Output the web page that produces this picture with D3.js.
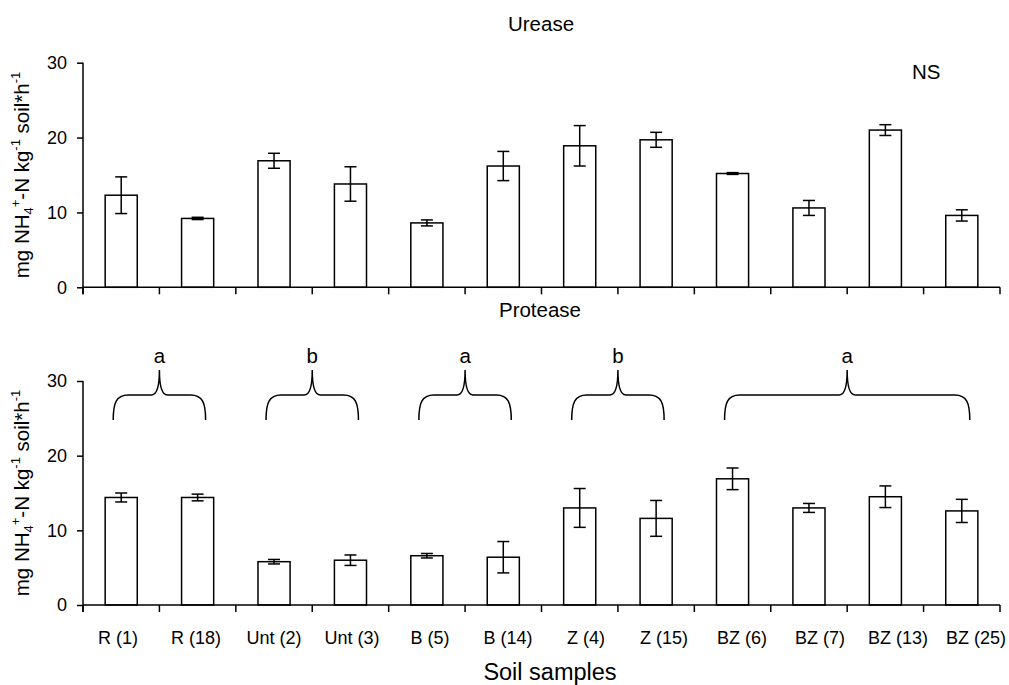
<!DOCTYPE html>
<html><head><meta charset="utf-8">
<script src="https://cdn.jsdelivr.net/npm/d3@7"></script>
<style>
body{margin:0;background:#fff;}
text{font-family:"Liberation Sans",Arial,sans-serif;fill:#000;}
</style></head>
<body><svg id="c" width="1009" height="685"></svg>
<script>
const categories = ["R (1)","R (18)","Unt (2)","Unt (3)","B (5)","B (14)","Z (4)","Z (15)","BZ (6)","BZ (7)","BZ (13)","BZ (25)"];
const ureaseMean = [12.3, 9.2, 16.9, 13.8, 8.6, 16.2, 18.9, 19.7, 15.2, 10.6, 21.0, 9.6];
const ureaseErr  = [2.45, 0.15, 1.0, 2.3, 0.4, 1.95, 2.7, 1.0, 0.12, 1.0, 0.72, 0.75];
const proteaseMean = [14.4, 14.4, 5.8, 6.0, 6.6, 6.4, 13.0, 11.6, 16.9, 13.0, 14.5, 12.6];
const proteaseErr  = [0.6, 0.45, 0.3, 0.7, 0.3, 2.1, 2.6, 2.4, 1.45, 0.6, 1.45, 1.55];
const groupLetters = ["a","b","a","b","a"];
const groupFirst = [0,2,4,6,8];
const groupLast  = [1,3,5,7,11];
const yTicks = [0,10,20,30];
const panelTitles = ["Urease","Protease"];
const nsLabel = "NS";
const xTitle = "Soil samples";

const svg = d3.select("#c");
const left = 83, right = 1000;
const x = d3.scaleBand().domain(categories).range([left,right]).paddingInner(0.58).paddingOuter(0.29);
const step = x.step();
// category labels are spread slightly wider than the bars in the original
const xl = d3.scalePoint().domain(categories).range([118,976]);

function panel(mean, err, top, bottom, showLabels){
  const y = d3.scaleLinear().domain([0,30]).range([bottom,top]);
  const g = svg.append("g");
  const ya = d3.axisLeft(y).tickValues(yTicks).tickSize(6).tickPadding(10);
  const yg = g.append("g").attr("transform",`translate(${left},0)`).call(ya);
  yg.select(".domain").remove();
  yg.selectAll("line").attr("stroke","#000").attr("stroke-width",1.5);
  yg.selectAll("text").attr("font-size",18).attr("font-family","Liberation Sans, Arial, sans-serif");
  g.append("line").attr("x1",left).attr("x2",left).attr("y1",y(30)).attr("y2",y(0)+7).attr("stroke","#000").attr("stroke-width",1.5);
  g.selectAll("rect.bar").data(categories).enter().append("rect")
    .attr("x",d=>x(d)).attr("width",x.bandwidth())
    .attr("y",(d,i)=>y(mean[i])).attr("height",(d,i)=>y(0)-y(mean[i]))
    .attr("fill","#fff").attr("stroke","#000").attr("stroke-width",1.5);
  const eb = g.selectAll("g.eb").data(categories).enter().append("g");
  eb.append("line").attr("x1",d=>x(d)+x.bandwidth()/2).attr("x2",d=>x(d)+x.bandwidth()/2)
    .attr("y1",(d,i)=>y(mean[i]+err[i])).attr("y2",(d,i)=>y(mean[i]-err[i])).attr("stroke","#000").attr("stroke-width",1.5);
  [1,-1].forEach(s=>{
    eb.append("line").attr("x1",d=>x(d)+x.bandwidth()/2-6).attr("x2",d=>x(d)+x.bandwidth()/2+6)
      .attr("y1",(d,i)=>y(mean[i]+s*err[i])).attr("y2",(d,i)=>y(mean[i]+s*err[i])).attr("stroke","#000").attr("stroke-width",1.5);
  });
  g.append("line").attr("x1",left).attr("x2",right).attr("y1",y(0)).attr("y2",y(0)).attr("stroke","#000").attr("stroke-width",1.5);
  const bounds = d3.range(categories.length+1).map(i=>left+i*step);
  g.selectAll("line.xt").data(bounds).enter().append("line")
    .attr("x1",d=>d).attr("x2",d=>d).attr("y1",y(0)).attr("y2",y(0)+7).attr("stroke","#000").attr("stroke-width",1.5);
  if(showLabels){
    g.selectAll("text.xl").data(categories).enter().append("text")
      .attr("x",d=>xl(d)).attr("y",y(0)+39).attr("text-anchor","middle").attr("font-size",18).text(d=>d);
  }
  const cy = (top+bottom)/2;
  const t = g.append("text").attr("transform",`translate(29,${cy}) rotate(-90)`).attr("text-anchor","middle").attr("font-size",20.5);
  t.append("tspan").text("mg NH");
  t.append("tspan").attr("font-size",13).attr("baseline-shift","-4").text("4");
  t.append("tspan").attr("font-size",13).attr("baseline-shift","9").text("+");
  t.append("tspan").text("-N kg");
  t.append("tspan").attr("font-size",13).attr("baseline-shift","9").text("-1");
  t.append("tspan").text("  soil*h");
  t.append("tspan").attr("font-size",13).attr("baseline-shift","9").text("-1");
  return y;
}

const y1 = panel(ureaseMean, ureaseErr, 62.7, 287.3, false);
const y2 = panel(proteaseMean, proteaseErr, 381, 605, true);

svg.append("text").attr("x",541).attr("y",31).attr("text-anchor","middle").attr("font-size",20.5).text(panelTitles[0]);
svg.append("text").attr("x",540).attr("y",317).attr("text-anchor","middle").attr("font-size",20.5).text(panelTitles[1]);
svg.append("text").attr("x",912).attr("y",79).attr("font-size",20.5).text(nsLabel);
svg.append("text").attr("x",550).attr("y",680).attr("text-anchor","middle").attr("font-size",23.5).text(xTitle);

const y30 = y2(30);
groupLetters.forEach((L,k)=>{
  const c0 = x(categories[groupFirst[k]])+x.bandwidth()/2;
  const c1 = x(categories[groupLast[k]])+x.bandwidth()/2;
  const x1 = c0-8, x2 = c1+8;
  const xc = (x1+x2)/2;
  const yE = y30+39, yL = y30+14, yA = y30-11;
  const p = `M${x1},${yE} C${x1},${yL+8} ${x1+3},${yL} ${x1+15},${yL} L${xc-8},${yL} C${xc-2},${yL} ${xc},${yL-10} ${xc},${yA} C${xc},${yL-10} ${xc+2},${yL} ${xc+8},${yL} L${x2-15},${yL} C${x2-3},${yL} ${x2},${yL+8} ${x2},${yE}`;
  svg.append("path").attr("d",p).attr("fill","none").attr("stroke","#000").attr("stroke-width",1.5);
  svg.append("text").attr("x",xc).attr("y",y30-18).attr("text-anchor","middle").attr("font-size",20.5).text(L);
});
</script></body></html>
